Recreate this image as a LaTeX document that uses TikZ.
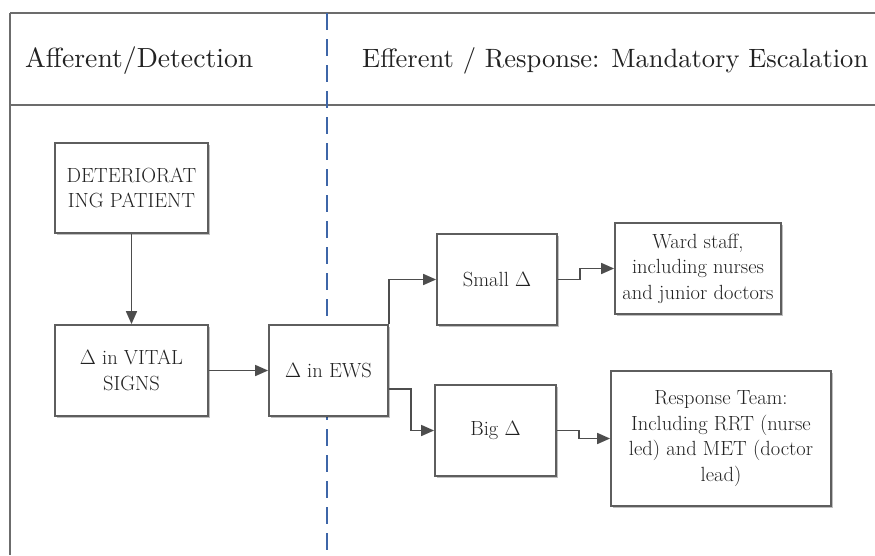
\documentclass[tikz,border=0pt]{standalone}
\usetikzlibrary{arrows.meta,shadows}
\definecolor{linegray}{HTML}{4D4D4D}
\definecolor{boxgray}{HTML}{5E5E5E}
\definecolor{dashblue}{HTML}{3E66A8}
\definecolor{txt}{HTML}{222222}
\begin{document}
\begin{tikzpicture}[x=1pt,y=-1pt,
  box/.style={draw=boxgray,line width=1.8pt,fill=white,align=center,inner sep=2pt,
    text=txt,font=\fontsize{20.5}{25.5}\selectfont,
    drop shadow={shadow xshift=1.8pt,shadow yshift=-1.8pt,opacity=0.25,fill=black}},
  arr/.style={draw=linegray,line width=1.7pt,-{Triangle[length=13pt,width=11pt]}},
  frame/.style={draw=gray!85!black,line width=1.8pt},
  head/.style={text=txt,inner sep=0pt}]
\useasboundingbox (0,0) rectangle (875,555);
% frame
\draw[frame] (10,13) -- (875,13);
\draw[frame] (10,105) -- (875,105);
\draw[frame] (10,13) -- (10,555);
\draw[dashblue,line width=1.8pt,dash pattern=on 17pt off 9pt] (327,13) -- (327,555);
% headers
\node[head,anchor=base west] (h1) at (25,67) {\resizebox{228pt}{!}{Afferent/Detection}};
\node[head,anchor=base west] (h2) at (362,67) {\resizebox{506pt}{!}{Efferent / Response: Mandatory Escalation}};
% boxes
\node[box,minimum width=153pt,minimum height=90pt] (det) at (131.5,188) {DETERIORAT\\ING PATIENT};
\node[box,minimum width=153pt,minimum height=91pt] (vital) at (131.5,370.5) {$\Delta$ in VITAL\\SIGNS};
\node[box,minimum width=119pt,minimum height=91pt] (ews) at (328.5,370.5) {$\Delta$ in EWS};
\node[box,minimum width=120pt,minimum height=91pt] (small) at (497,279.5) {Small $\Delta$};
\node[box,minimum width=121pt,minimum height=91pt] (big) at (495.5,430.5) {Big $\Delta$};
\node[box,minimum width=166pt,minimum height=91pt] (ward) at (698,268.5) {Ward staff,\\including nurses\\and junior doctors};
\node[box,minimum width=220pt,minimum height=135pt] (resp) at (721,438.5) {Response Team:\\Including RRT (nurse\\led) and MET (doctor\\lead)};
% connectors
\draw[arr] (det.south) -- (vital.north);
\draw[arr] (vital.east) -- (ews.west);
\draw[arr] (ews.north east) |- (small.west);
\draw[arr] ([yshift=-18.5pt]ews.east) -- ++(22,0) |- (big.west);
\draw[arr] (small.east) -- ++(22,0) |- (ward.west);
\draw[arr] (big.east) -- ++(22,0) |- (resp.west);
\end{tikzpicture}
\end{document}
